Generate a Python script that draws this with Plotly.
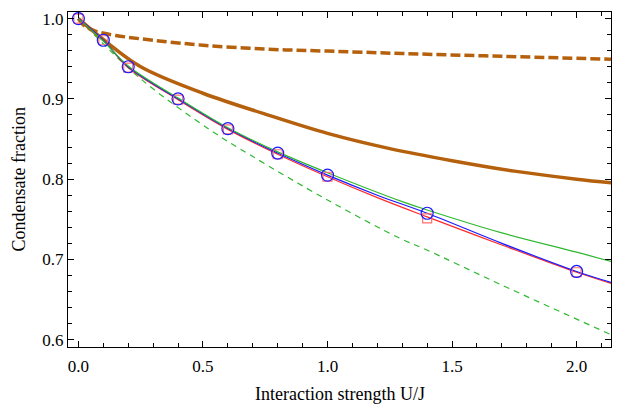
import plotly.graph_objects as go

# Marker data (interaction strength U/J)
u_pts = [0.0, 0.1, 0.2, 0.4, 0.6, 0.8, 1.0, 1.4, 2.0]
circle_vals = [1.0, 0.973, 0.940, 0.900, 0.863, 0.8325, 0.805, 0.7575, 0.685]
square_vals = [1.0, 0.973, 0.939, 0.899, 0.862, 0.831, 0.803, 0.751, 0.684]

# Blue solid line
u_blue = [0.0, 0.1, 0.2, 0.4, 0.6, 0.8, 1.0, 1.2, 1.4, 1.7, 2.0, 2.14]
blue_vals = [1.0, 0.973, 0.940, 0.900, 0.863, 0.8325, 0.805, 0.780, 0.7575, 0.720, 0.685, 0.6712]

# Red solid line
u_red = [0.0, 0.1, 0.2, 0.4, 0.6, 0.8, 1.0, 1.2, 1.4, 1.7, 2.0, 2.14]
red_vals = [1.0, 0.973, 0.939, 0.899, 0.862, 0.831, 0.803, 0.777, 0.753, 0.718, 0.684, 0.670]

# Green solid line
u_green = [0.0, 0.1, 0.2, 0.4, 0.6, 0.8, 1.0, 1.3, 1.4, 1.7, 2.0, 2.14]
green_vals = [1.0, 0.972, 0.941, 0.901, 0.864, 0.834, 0.808, 0.772, 0.7616, 0.733, 0.709, 0.6973]

# Green dashed line
u_gdash = [0.0, 0.25, 0.53, 0.69, 1.0, 1.29, 1.39, 1.7, 2.14]
gdash_vals = [1.0, 0.925, 0.861, 0.830, 0.774, 0.7264, 0.713, 0.668, 0.606]

# Brown thick solid line
u_brown = [0.0, 0.1, 0.25, 0.5, 0.75, 1.0, 1.25, 1.5, 1.75, 2.0, 2.14]
brown_vals = [1.0, 0.974, 0.940, 0.907, 0.881, 0.857, 0.838, 0.823, 0.810, 0.800, 0.7955]

# Brown thick dashed line
u_bdash = [0.0, 0.02, 0.066, 0.15, 0.3, 0.5, 0.75, 1.0, 1.3, 1.7, 2.14]
bdash_vals = [1.0, 0.992, 0.9846, 0.979, 0.973, 0.9668, 0.962, 0.9595, 0.9565, 0.953, 0.9494]

x_title = "Interaction strength U/J"
y_title = "Condensate fraction"

BROWN = "#b5600c"
GREEN = "#2eb82e"
BLUE = "#1a1aff"
RED = "#ff2a2a"

fig = go.Figure()
fig.add_trace(go.Scatter(x=u_gdash, y=gdash_vals, mode="lines", line_shape="spline",
                         line=dict(color=GREEN, width=1.2, dash="6px,5px")))
fig.add_trace(go.Scatter(x=u_bdash, y=bdash_vals, mode="lines", line_shape="spline",
                         line=dict(color=BROWN, width=3.5, dash="10px,4px")))
fig.add_trace(go.Scatter(x=u_brown, y=brown_vals, mode="lines", line_shape="spline",
                         line=dict(color=BROWN, width=3.5)))
fig.add_trace(go.Scatter(x=u_red, y=red_vals, mode="lines", line_shape="spline",
                         line=dict(color=RED, width=1.2)))
fig.add_trace(go.Scatter(x=u_blue, y=blue_vals, mode="lines", line_shape="spline",
                         line=dict(color=BLUE, width=1.2)))
fig.add_trace(go.Scatter(x=u_green, y=green_vals, mode="lines", line_shape="spline",
                         line=dict(color=GREEN, width=1.2)))
fig.add_trace(go.Scatter(x=u_pts, y=square_vals, mode="markers",
                         marker=dict(symbol="square-open", size=9, color="#ff7070",
                                     line=dict(width=1.2))))
fig.add_trace(go.Scatter(x=u_pts, y=circle_vals, mode="markers",
                         marker=dict(symbol="circle-open", size=12, color=BLUE,
                                     line=dict(width=1.2))))

FAMILY = "Liberation Serif, Times New Roman, serif"
font = dict(family=FAMILY, size=17, color="black")
title_font = dict(family=FAMILY, size=18, color="black")

axis_common = dict(
    showline=True, linecolor="black", linewidth=1, mirror="allticks",
    ticks="inside", ticklen=6, tickwidth=1, tickcolor="black",
    showgrid=False, zeroline=False, tickformat=".1f",
    tickfont=font, automargin=False,
)

fig.update_xaxes(range=[-0.0418, 2.138], dtick=0.5, tick0=0,
                 minor=dict(ticks="inside", ticklen=4, dtick=0.1, tickcolor="black", showgrid=False),
                 ticklabelstandoff=4,
                 **axis_common)
fig.update_yaxes(range=[0.5909, 1.0082], dtick=0.1, tick0=0.6,
                 minor=dict(ticks="inside", ticklen=4, dtick=0.02, tickcolor="black", showgrid=False),
                 **axis_common)

fig.add_annotation(text=x_title, xref="paper", yref="paper", x=0.5, y=0,
                   xanchor="center", yanchor="middle", yshift=-47, showarrow=False,
                   font=title_font)
fig.add_annotation(text=y_title, xref="paper", yref="paper", x=0, y=0.5,
                   xanchor="center", yanchor="middle", xshift=-50, textangle=-90,
                   showarrow=False, font=title_font)

fig.update_layout(
    width=624, height=406,
    margin=dict(l=60, r=21, t=4, b=67),
    paper_bgcolor="white", plot_bgcolor="white",
    showlegend=False, font=font,
)

fig.write_html("out.html")
